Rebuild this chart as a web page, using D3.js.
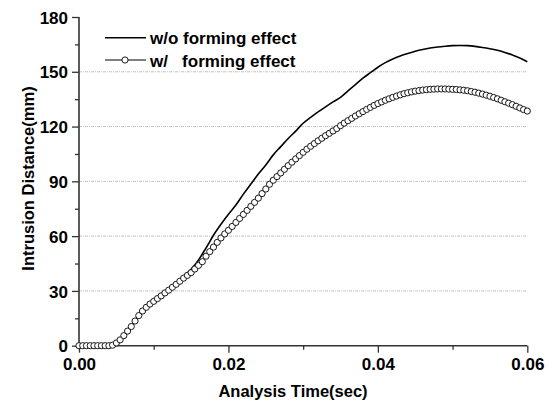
<!DOCTYPE html>
<html>
<head>
<meta charset="utf-8">
<script src="https://cdn.jsdelivr.net/npm/d3@7"></script>
<style>
  html, body { margin: 0; padding: 0; background: #fff; }
  svg { display: block; }
  text { font-family: "Liberation Sans", Arial, sans-serif; font-weight: bold; fill: #000; }
</style>
</head>
<body>
<svg id="chart" width="554" height="403"></svg>
<script>
// ---- Data (time in sec, intrusion in mm) ----
const lineTimes = d3.range(0, 61).map(i => i / 1000); // 0.000 .. 0.060 step 0.001
const woForming = [
  0, 0, 0, 0, 0, 1.5, 5.5, 10.5, 16.5, 21,
  24.3, 27.3, 30.5, 34, 37.8, 41.8, 47, 53.5, 60.5, 66.5,
  72, 77, 83, 88.5, 94, 99, 104.5, 109, 113.5, 117.5,
  121.8, 125, 128, 130.8, 133.5, 136, 139.5, 143, 146.5, 149.5,
  152.5, 155, 157, 158.7, 160, 161.2, 162.2, 163, 163.6, 164,
  164.3, 164.4, 164.3, 163.9, 163.3, 162.6, 161.8, 160.6, 159.2, 157.5,
  155.5
];
const markerTimes = d3.range(0, 121).map(i => i / 2000); // 0.0000 .. 0.0600 step 0.0005
const wForming = [
  0, 0, 0, 0, 0, 0, 0, 0, 0, 0.3,
  1.5, 3.2, 5.5, 8, 10.5, 13.5, 16.5, 19, 21, 22.8,
  24.3, 25.8, 27.3, 28.9, 30.4, 32, 33.6, 35.3, 37, 38.5,
  40, 42, 44, 46, 49, 51.5, 54, 56.6, 59, 61.2,
  63.2, 65.3, 67.5, 69.7, 71.9, 74.1, 76.3, 78.5, 80.8, 83.3,
  85.8, 88.4, 90.6, 92.6, 94.6, 96.6, 98.6, 100.5, 102.3, 104.1,
  105.9, 107.6, 109.2, 110.7, 112.2, 113.6, 115, 116.3, 117.6, 118.9,
  120.5, 121.9, 123.2, 124.5, 125.8, 127, 128.2, 129.4, 130.5, 131.6,
  132.6, 133.5, 134.4, 135.2, 136, 136.7, 137.4, 138, 138.5, 139,
  139.4, 139.7, 140, 140.2, 140.4, 140.5, 140.6, 140.6, 140.6, 140.5,
  140.4, 140.3, 140.1, 139.9, 139.6, 139.2, 138.8, 138.3, 137.8, 137.2,
  136.6, 135.9, 135.2, 134.4, 133.6, 132.8, 132, 131.1, 130.2, 129.3,
  128.5
];
const xTicks = [0, 0.02, 0.04, 0.06];
const xMinorTicks = [0.01, 0.03, 0.05];
const yTicks = [0, 30, 60, 90, 120, 150, 180];
const yMinorTicks = [15, 45, 75, 105, 135, 165];
const gridValues = [30, 60, 90, 120, 150];
const seriesNames = ["w/o forming effect", "w/   forming effect"];
const xTitle = "Analysis Time(sec)";
const yTitle = "Intrusion Distance(mm)";

// ---- Layout ----
const svg = d3.select("#chart");
const x = d3.scaleLinear().domain([0, 0.06]).range([79, 527.3]);
const y = d3.scaleLinear().domain([0, 180]).range([345.7, 17]);

// gridlines
svg.append("g").selectAll("line").data(gridValues).join("line")
  .attr("x1", x(0)).attr("x2", x(0.06))
  .attr("y1", d => y(d)).attr("y2", d => y(d))
  .attr("stroke", "#b4b4b4").attr("stroke-width", 0.8)
  .attr("stroke-dasharray", "3,1,1,1");

// axes
const axisColor = "#333";
const xAxis = svg.append("g").attr("transform", `translate(0,${y(0)})`)
  .call(d3.axisBottom(x).tickValues(xTicks).tickSize(7).tickFormat(d3.format(".2f")));
const xMinor = svg.append("g").attr("transform", `translate(0,${y(0)})`)
  .call(d3.axisBottom(x).tickValues(xMinorTicks).tickSize(4).tickFormat(""));
const yAxis = svg.append("g").attr("transform", `translate(${x(0)},0)`)
  .call(d3.axisLeft(y).tickValues(yTicks).tickSize(7).tickFormat(d3.format("d")));
const yMinor = svg.append("g").attr("transform", `translate(${x(0)},0)`)
  .call(d3.axisLeft(y).tickValues(yMinorTicks).tickSize(4).tickFormat(""));

[xAxis, xMinor, yAxis, yMinor].forEach(g => {
  g.select(".domain").attr("stroke", axisColor).attr("stroke-width", 1.6)
    .attr("d", null);
  g.selectAll(".tick line").attr("stroke", axisColor).attr("stroke-width", 1.3);
  g.selectAll("text").attr("font-size", 17).attr("font-family", null).attr("fill", "#000");
});
xMinor.select(".domain").remove();
yMinor.select(".domain").remove();
xAxis.select(".domain").attr("d", `M${x(0)},0H${x(0.06)}`);
yAxis.select(".domain").attr("d", `M0,${y(0)}V${y(180)}`);
xAxis.selectAll(".tick text").attr("y", 24).attr("dy", 0);
yAxis.selectAll(".tick text").attr("x", -11).attr("dy", "0.36em");
xAxis.attr("font-size", null).attr("font-family", null);
yAxis.attr("font-size", null).attr("font-family", null);

// axis titles
svg.append("text").attr("x", 293).attr("y", 397).attr("text-anchor", "middle")
  .attr("font-size", 16.5).text(xTitle);
svg.append("text").attr("transform", `translate(34,178.5) rotate(-90)`)
  .attr("text-anchor", "middle").attr("font-size", 16.5).text(yTitle);

// series
const lineGen = d3.line().curve(d3.curveMonotoneX);
const woPts = lineTimes.map((t, i) => [x(t), y(woForming[i])]);
const wPts = markerTimes.map((t, i) => [x(t), y(wForming[i])]);

svg.append("path").attr("d", lineGen(woPts))
  .attr("fill", "none").attr("stroke", "#000").attr("stroke-width", 1.6);
svg.append("path").attr("d", lineGen(wPts))
  .attr("fill", "none").attr("stroke", "#000").attr("stroke-width", 1);
svg.append("g").selectAll("circle").data(wPts).join("circle")
  .attr("cx", d => d[0]).attr("cy", d => d[1]).attr("r", 3.1)
  .attr("fill", "#fff").attr("stroke", "#000").attr("stroke-width", 0.9);

// legend
const legend = svg.append("g");
legend.append("line").attr("x1", 105).attr("x2", 146).attr("y1", 37.7).attr("y2", 37.7)
  .attr("stroke", "#000").attr("stroke-width", 1.6);
legend.append("text").attr("x", 150).attr("y", 44).attr("font-size", 17)
  .style("white-space", "pre").text(seriesNames[0]);
legend.append("line").attr("x1", 105).attr("x2", 146).attr("y1", 60).attr("y2", 60)
  .attr("stroke", "#000").attr("stroke-width", 1);
legend.append("circle").attr("cx", 125).attr("cy", 60).attr("r", 3.1)
  .attr("fill", "#fff").attr("stroke", "#000").attr("stroke-width", 0.9);
legend.append("text").attr("x", 150).attr("y", 66.5).attr("font-size", 17)
  .style("white-space", "pre").text(seriesNames[1]);
</script>
</body>
</html>
